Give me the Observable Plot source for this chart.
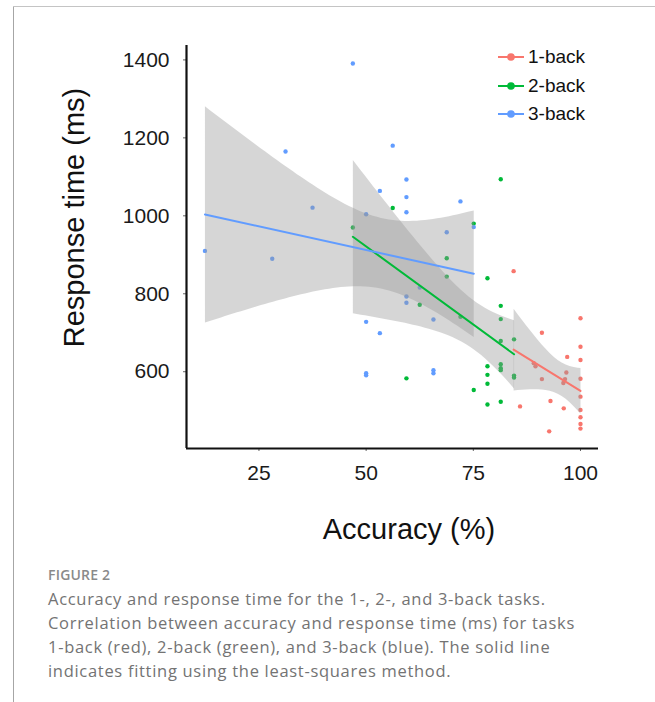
<!DOCTYPE html>
<html>
<head>
<meta charset="utf-8">
<script src="https://cdn.jsdelivr.net/npm/d3@7"></script>
<script src="https://cdn.jsdelivr.net/npm/@observablehq/plot@0.6"></script>
<style>
  html, body { margin: 0; padding: 0; background: #fff; }
  body { width: 655px; height: 702px; position: relative; overflow: hidden; font-family: "Liberation Sans", Arial, sans-serif; }
  #frameL { position: absolute; left: 13px; top: 6px; width: 1px; height: 700px; background: #a6a6a6; }
  #frameT { position: absolute; left: 13px; top: 6px; width: 642px; height: 1px; background: #c4c4c4; }
  #chart { position: absolute; left: 0; top: 0; }
  #legend { position: absolute; left: 498px; top: 43px; font-size: 19px; color: #111; font-family: "Liberation Sans", Arial, sans-serif; }
  #legend .row { display: flex; align-items: center; height: 28.4px; }
  #legend svg { margin-right: 4px; }
  #fig { position: absolute; left: 48px; top: 568px; font-family: "Open Sans", sans-serif; font-size: 14px; line-height: 14px; font-weight: 600; color: #8a8a8a; letter-spacing: 0.2px; }
  #cap { position: absolute; left: 48px; top: 587px; font-family: "Open Sans", sans-serif; font-size: 16.5px; line-height: 24px; letter-spacing: 0.7px; color: #737373; white-space: nowrap; }
</style>
</head>
<body>
<div id="frameL"></div>
<div id="frameT"></div>
<div id="chart"></div>
<div id="legend"></div>
<div id="fig">FIGURE 2</div>
<div id="cap">Accuracy and response time for the 1-, 2-, and 3-back tasks.<br>Correlation between accuracy and response time (ms) for tasks<br>1-back (red), 2-back (green), and 3-back (blue). The solid line<br>indicates fitting using the least-squares method.</div>
<script>
// ---- data ----
const tasks = ["1-back", "2-back", "3-back"];
const taskColors = ["#F8766D", "#00BA38", "#619CFF"];

const acc1back = [84.4, 85.9, 89.1, 89.5, 91.0, 91.0, 92.7, 93.0, 96.1, 96.0, 96.4, 96.7, 96.9, 100, 100, 100, 100, 100, 100, 100, 100, 100];
const rt1back  = [858, 511, 622, 614, 700, 581, 447, 525, 506, 571, 581, 598, 638, 737, 664, 630, 582, 536, 502, 483, 466, 454];

const acc2back = [46.9, 56.2, 59.4, 62.5, 68.8, 68.8, 72.0, 75.1, 75.1, 78.3, 78.3, 78.3, 78.3, 78.3, 81.4, 81.4, 81.4, 81.4, 81.4, 81.4, 81.4, 81.4, 84.5, 84.5, 84.5];
const rt2back  = [970, 1020, 583, 772, 891, 844, 741, 980, 553, 840, 614, 592, 569, 516, 1094, 769, 735, 679, 619, 609, 604, 523, 683, 590, 585];

const acc3back = [12.4, 28.1, 31.2, 37.5, 46.9, 50.0, 50.0, 50.0, 50.0, 53.2, 53.2, 56.2, 59.4, 59.4, 59.4, 59.4, 59.4, 62.5, 65.7, 65.7, 65.7, 68.8, 72.0, 75.1];
const rt3back  = [910, 890, 1165, 1021, 1391, 1004, 728, 596, 591, 1064, 699, 1180, 1093, 1048, 1009, 793, 777, 816, 734, 604, 596, 958, 1037, 971];

const xTicks = [25, 50, 75, 100];
const yTicks = [600, 800, 1000, 1200, 1400];
const xDomain = [8.1, 104.2];
const yDomain = [403, 1437];

const xTitle = "Accuracy (%)";
const yTitle = "Response time (ms)";

// ---- build rows ----
const series = [[acc1back, rt1back], [acc2back, rt2back], [acc3back, rt3back]];
const rows = series.flatMap(([a, r], k) => a.map((v, i) => ({task: tasks[k], acc: v, rt: r[i]})));

const chart = Plot.plot({
  width: 655,
  height: 560,
  marginLeft: 186,
  marginRight: 57,
  marginTop: 45,
  marginBottom: 112,
  style: {fontFamily: "Liberation Sans, Arial, sans-serif", fontSize: "21px", color: "#1a1a1a", background: "transparent", overflow: "visible"},
  x: {domain: xDomain, ticks: xTicks, tickSize: 3, tickPadding: 14, label: null, tickFormat: d3.format("d")},
  y: {domain: yDomain, ticks: yTicks, tickSize: 3, tickPadding: 14, label: null, tickFormat: d3.format("d")},
  color: {domain: tasks, range: taskColors},
  marks: [
    Plot.dot(rows, {x: "acc", y: "rt", fill: "task", r: 2.2}),
    Plot.linearRegressionY(rows, {x: "acc", y: "rt", stroke: "task", strokeOpacity: 0, fill: "#999999", fillOpacity: 0.4, ci: 0.95}),
    Plot.linearRegressionY(rows, {x: "acc", y: "rt", stroke: "task", strokeWidth: 2, ci: 0}),
    Plot.ruleX(xDomain.slice(0, 1), {stroke: "#111", strokeWidth: 2.2}),
    Plot.ruleY(yDomain.slice(0, 1), {stroke: "#111", strokeWidth: 2.2})
  ]
});
document.getElementById("chart").appendChild(chart);

// tick mark colour
d3.select(chart).selectAll("g[aria-label$='tick'] path").attr("stroke", "#666");

// axis titles
const svg = d3.select(chart);
svg.append("text")
  .attr("x", 409).attr("y", 539)
  .attr("text-anchor", "middle")
  .attr("font-size", 29).attr("fill", "#111")
  .text(xTitle);
svg.append("text")
  .attr("transform", "translate(84,217.5) rotate(-90)")
  .attr("text-anchor", "middle")
  .attr("font-size", 29).attr("fill", "#111")
  .text(yTitle);

// legend
const leg = d3.select("#legend");
tasks.forEach((t, i) => {
  const row = leg.append("div").attr("class", "row");
  const s = row.append("svg").attr("width", 26).attr("height", 10);
  s.append("line").attr("x1", 0).attr("x2", 26).attr("y1", 5).attr("y2", 5).attr("stroke", taskColors[i]).attr("stroke-width", 2);
  s.append("circle").attr("cx", 13).attr("cy", 5).attr("r", 3.8).attr("fill", taskColors[i]);
  row.append("span").text(t);
});
</script>
</body>
</html>
